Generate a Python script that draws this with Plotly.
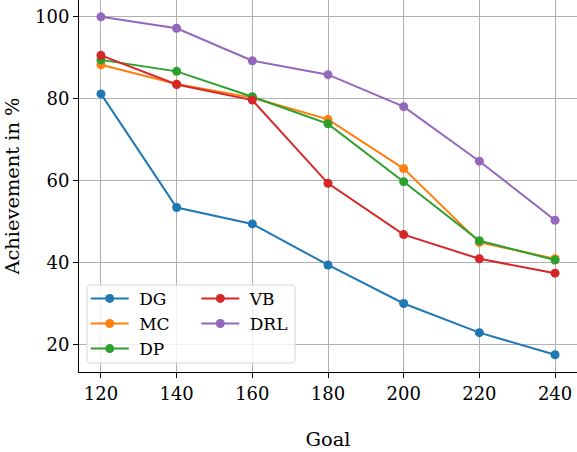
import plotly.graph_objects as go

goals = [120, 140, 160, 180, 200, 220, 240]
dg = [81.2, 53.5, 49.5, 39.5, 30.1, 23.0, 17.6]
mc = [88.3, 83.6, 80.3, 75.0, 63.0, 45.0, 41.0]
dp = [89.5, 86.7, 80.5, 73.9, 59.8, 45.4, 40.7]
vb = [90.6, 83.5, 79.7, 59.4, 46.9, 41.0, 37.5]
drl = [100.0, 97.2, 89.3, 85.9, 78.1, 64.8, 50.4]

names = ["DG", "MC", "DP", "VB", "DRL"]
series = [dg, mc, dp, vb, drl]
colors = ["#1f77b4", "#ff7f0e", "#2ca02c", "#d62728", "#9467bd"]
legend_ids = ["legend", "legend", "legend", "legend2", "legend2"]

font = "DejaVu Serif"
fig = go.Figure()
for n, s, c, lg in zip(names, series, colors, legend_ids):
    fig.add_trace(go.Scatter(
        x=goals, y=s, name="\u00a0" + n, mode="lines+markers",
        line=dict(color=c, width=2), marker=dict(color=c, size=9),
        legend=lg,
    ))

axis_common = dict(
    showgrid=True, gridcolor="#b0b0b0", gridwidth=1,
    showline=True, linecolor="black", linewidth=1,
    ticks="outside", ticklen=5, tickcolor="black", zeroline=False,
    tickfont=dict(family=font, size=18, color="black"),
    automargin=False,
)

# rounded legend frame (paper coords)
x0, x1, y0, y1 = 0.016, 0.434, 0.024, 0.234
rx, ry = 0.008, 0.0108
frame = (f"M{x0+rx},{y0} L{x1-rx},{y0} Q{x1},{y0} {x1},{y0+ry} L{x1},{y1-ry} "
         f"Q{x1},{y1} {x1-rx},{y1} L{x0+rx},{y1} Q{x0},{y1} {x0},{y1-ry} "
         f"L{x0},{y0+ry} Q{x0},{y0} {x0+rx},{y0} Z")

fig.update_layout(
    width=577, height=452,
    margin=dict(l=79, r=0, t=0, b=80),
    plot_bgcolor="white", paper_bgcolor="white",
    font=dict(family=font, color="black"),
    xaxis=dict(range=[114.2, 245.8], tickvals=[120, 140, 160, 180, 200, 220, 240], mirror=True,
               title=dict(text="Goal", font=dict(family=font, size=19.4), standoff=29), **axis_common),
    yaxis=dict(range=[13.4, 104.1], tickvals=[20, 40, 60, 80, 100], mirror=False,
               title=dict(text="Achievement in %", font=dict(family=font, size=19.4), standoff=10), **axis_common),
    legend=dict(x=0.0135, y=0.245, xanchor="left", yanchor="top", bgcolor="rgba(0,0,0,0)",
                font=dict(family=font, size=17), itemwidth=38, tracegroupgap=0),
    legend2=dict(x=0.2356, y=0.245, xanchor="left", yanchor="top", bgcolor="rgba(0,0,0,0)",
                 font=dict(family=font, size=17), itemwidth=38, tracegroupgap=0),
    shapes=[dict(type="path", xref="paper", yref="paper", path=frame,
                 fillcolor="rgba(255,255,255,0.8)", line=dict(color="#d6d6d6", width=1), layer="above")],
)

fig.write_html("out.html", config={"displayModeBar": False},
               post_script="document.body.style.margin='0';document.body.style.padding='0';")
